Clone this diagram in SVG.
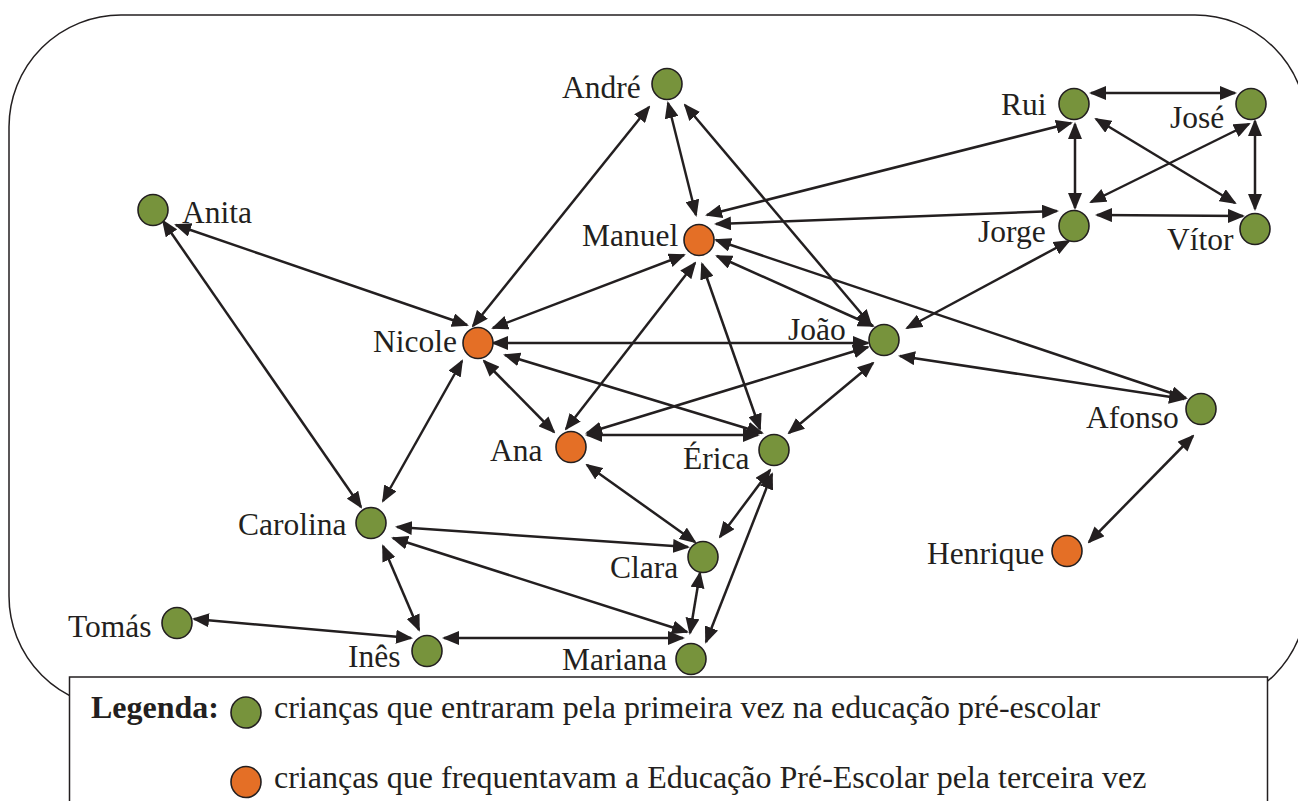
<svg xmlns="http://www.w3.org/2000/svg" width="1298" height="801" viewBox="0 0 1298 801">
<style>
.lbl{font-family:"Liberation Serif","Times New Roman",serif;font-size:31.5px;fill:#231f20}
.leg{font-size:32px}
.g{fill:#77933c;stroke:#231f20;stroke-width:1.6}
.o{fill:#e46f26;stroke:#231f20;stroke-width:1.6}
.e line{stroke:#231f20;stroke-width:2.5;marker-start:url(#ah);marker-end:url(#ah)}
</style>
<defs>
<marker id="ah" markerUnits="userSpaceOnUse" viewBox="0 0 17 14" refX="15" refY="7" markerWidth="17" markerHeight="14" orient="auto-start-reverse">
<path d="M0,0 L17,7 L0,14 z" fill="#231f20"/>
</marker>
</defs>
<rect x="0" y="0" width="1298" height="801" fill="#fff"/>
<rect id="frame" x="9" y="15" width="1298" height="693" rx="112" ry="112" fill="none" stroke="#231f20" stroke-width="1.5"/>
<g class="e" id="connectors">
<line x1="176" y1="225" x2="467" y2="325"/>
<line x1="163" y1="221" x2="361" y2="507"/>
<line x1="649" y1="107" x2="473" y2="326"/>
<line x1="668" y1="103" x2="696" y2="215"/>
<line x1="685" y1="105" x2="871" y2="325"/>
<line x1="707" y1="215" x2="1071" y2="123"/>
<line x1="716" y1="224" x2="1057" y2="211"/>
<line x1="684" y1="255" x2="493" y2="328"/>
<line x1="695" y1="263" x2="566" y2="429"/>
<line x1="702" y1="264" x2="760" y2="429"/>
<line x1="717" y1="256" x2="873" y2="326"/>
<line x1="716" y1="240" x2="1186" y2="398"/>
<line x1="493" y1="343" x2="868" y2="343"/>
<line x1="462" y1="361" x2="383" y2="501"/>
<line x1="484" y1="361" x2="554" y2="432"/>
<line x1="505" y1="355" x2="762" y2="433"/>
<line x1="868" y1="347" x2="587" y2="433"/>
<line x1="587" y1="435" x2="758" y2="435"/>
<line x1="873" y1="363" x2="789" y2="433"/>
<line x1="907" y1="328" x2="1069" y2="241"/>
<line x1="900" y1="356" x2="1184" y2="399"/>
<line x1="1091" y1="93" x2="1235" y2="93"/>
<line x1="1075" y1="124" x2="1075" y2="208"/>
<line x1="1096" y1="119" x2="1235" y2="203"/>
<line x1="1249" y1="124" x2="1091" y2="202"/>
<line x1="1255" y1="121" x2="1255" y2="209"/>
<line x1="1097" y1="215" x2="1243" y2="216"/>
<line x1="1193" y1="436" x2="1089" y2="542"/>
<line x1="587" y1="465" x2="695" y2="542"/>
<line x1="770" y1="470" x2="720" y2="537"/>
<line x1="772" y1="474" x2="706" y2="642"/>
<line x1="397" y1="527" x2="688" y2="547"/>
<line x1="393" y1="538" x2="687" y2="632"/>
<line x1="383" y1="546" x2="419" y2="630"/>
<line x1="700" y1="573" x2="690" y2="633"/>
<line x1="444" y1="638" x2="683" y2="638"/>
<line x1="194" y1="619" x2="411" y2="638"/>
</g>
<g id="andre"><ellipse class="g" cx="667" cy="84" rx="15" ry="15.5"/><text class="lbl" x="562" y="98">André</text></g>
<g id="anita"><ellipse class="g" cx="153" cy="210" rx="15" ry="15.5"/><text class="lbl" x="182" y="223">Anita</text></g>
<g id="manuel"><ellipse class="o" cx="699" cy="240" rx="15" ry="15.5"/><text class="lbl" x="582" y="246">Manuel</text></g>
<g id="nicole"><ellipse class="o" cx="478" cy="343" rx="15" ry="15.5"/><text class="lbl" x="373" y="352">Nicole</text></g>
<g id="joao"><ellipse class="g" cx="884" cy="340" rx="15" ry="15.5"/><text class="lbl" x="788" y="340">João</text></g>
<g id="rui"><ellipse class="g" cx="1074" cy="104" rx="15" ry="15.5"/><text class="lbl" x="1001" y="115">Rui</text></g>
<g id="jose"><ellipse class="g" cx="1251" cy="104" rx="15" ry="15.5"/><text class="lbl" x="1170" y="128">José</text></g>
<g id="jorge"><ellipse class="g" cx="1074" cy="226" rx="15" ry="15.5"/><text class="lbl" x="978" y="242">Jorge</text></g>
<g id="vitor"><ellipse class="g" cx="1255" cy="229" rx="15" ry="15.5"/><text class="lbl" x="1167" y="250">Vítor</text></g>
<g id="afonso"><ellipse class="g" cx="1201" cy="409" rx="15" ry="15.5"/><text class="lbl" x="1086" y="428">Afonso</text></g>
<g id="ana"><ellipse class="o" cx="571" cy="447" rx="15" ry="15.5"/><text class="lbl" x="490" y="461">Ana</text></g>
<g id="erica"><ellipse class="g" cx="774" cy="450" rx="15" ry="15.5"/><text class="lbl" x="683" y="469">Érica</text></g>
<g id="carolina"><ellipse class="g" cx="371" cy="523" rx="15" ry="15.5"/><text class="lbl" x="238" y="535">Carolina</text></g>
<g id="clara"><ellipse class="g" cx="703" cy="557" rx="15" ry="15.5"/><text class="lbl" x="610" y="578">Clara</text></g>
<g id="henrique"><ellipse class="o" cx="1067" cy="551" rx="15" ry="15.5"/><text class="lbl" x="927" y="564">Henrique</text></g>
<g id="tomas"><ellipse class="g" cx="177" cy="623" rx="15" ry="15.5"/><text class="lbl" x="68" y="637">Tomás</text></g>
<g id="ines"><ellipse class="g" cx="427" cy="651" rx="15" ry="15.5"/><text class="lbl" x="348" y="667">Inês</text></g>
<g id="mariana"><ellipse class="g" cx="691" cy="659" rx="15" ry="15.5"/><text class="lbl" x="562" y="670">Mariana</text></g>
<g id="legend">
<rect x="69.5" y="677" width="1198" height="140" fill="#fff" stroke="#231f20" stroke-width="1.5"/>
<text class="lbl leg" x="91" y="718" font-weight="bold">Legenda:</text>
<ellipse class="g" cx="246" cy="712.5" rx="15" ry="15.5"/>
<text class="lbl leg" x="274" y="718">crianças que entraram pela primeira vez na educação pré-escolar</text>
<ellipse class="o" cx="246" cy="782" rx="15" ry="15.5"/>
<text class="lbl leg" x="274" y="788">crianças que frequentavam a Educação Pré-Escolar pela terceira vez</text>
</g>
</svg>
